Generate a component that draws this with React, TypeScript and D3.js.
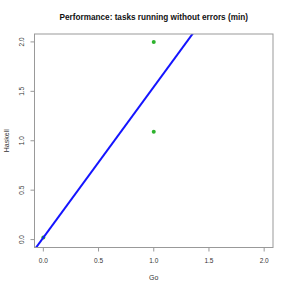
import React from "react";
import * as d3 from "d3";

const goTimes = [0, 1, 1];
const haskellTimes = [0.02, 2.0, 1.09];
const xTicks = [0, 0.5, 1, 1.5, 2];
const yTicks = [0, 0.5, 1, 1.5, 2];
const title = "Performance: tasks running without errors (min)";

const W = 291;
const H = 291;
const m = { left: 34.5, right: 273, top: 34, bottom: 247.5 };

const App = () => {
  const x = d3.scaleLinear().domain([-0.08, 2.08]).range([m.left, m.right]);
  const y = d3.scaleLinear().domain([-0.08, 2.08]).range([m.bottom, m.top]);

  // least squares fit, like abline(lm(...))
  const mx = d3.mean(goTimes)!;
  const my = d3.mean(haskellTimes)!;
  const sxy = d3.sum(goTimes, (v, i) => (v - mx) * (haskellTimes[i] - my));
  const sxx = d3.sum(goTimes, (v) => (v - mx) ** 2);
  const slope = sxy / sxx;
  const icept = my - slope * mx;

  const x0 = -0.08;
  const x1 = 2.08;
  const line = d3.line<number>().x((d) => x(d)).y((d) => y(icept + slope * d));

  const grey = "#333";

  return (
    <svg
      width={W}
      height={H}
      style={{ position: "absolute", left: 0, top: 0, background: "#fff" }}
      fontFamily="Liberation Sans, Arial, sans-serif"
    >
      <defs>
        <clipPath id="plot">
          <rect x={m.left} y={m.top} width={m.right - m.left} height={m.bottom - m.top} />
        </clipPath>
      </defs>
      <text x={(m.left + m.right) / 2} y={20} textAnchor="middle" fontSize={8.2} fontWeight="bold" fill="#111">
        {title}
      </text>

      <g clipPath="url(#plot)">
        {goTimes.map((g, i) => (
          <circle key={i} cx={x(g)} cy={y(haskellTimes[i])} r={2} fill="#2db32d" />
        ))}
        <path d={line([x0, x1]) ?? ""} stroke="#1414ff" strokeWidth={2} fill="none" />
      </g>

      <rect
        x={m.left}
        y={m.top}
        width={m.right - m.left}
        height={m.bottom - m.top}
        fill="none"
        stroke="#999"
        strokeWidth={1}
      />

      {xTicks.map((t) => (
        <g key={"x" + t}>
          <line x1={x(t)} x2={x(t)} y1={m.bottom} y2={m.bottom + 4} stroke="#999" />
          <text x={x(t)} y={263} textAnchor="middle" fontSize={6.5} fill={grey}>
            {t.toFixed(1)}
          </text>
        </g>
      ))}
      {yTicks.map((t) => (
        <g key={"y" + t}>
          <line x1={m.left - 4} x2={m.left} y1={y(t)} y2={y(t)} stroke="#999" />
          <text
            transform={`translate(24,${y(t)}) rotate(-90)`}
            textAnchor="middle"
            fontSize={6.5}
            fill={grey}
          >
            {t.toFixed(1)}
          </text>
        </g>
      ))}

      <text x={(m.left + m.right) / 2} y={280} textAnchor="middle" fontSize={7} fill={grey}>
        Go
      </text>
      <text
        transform={`translate(9,${(m.top + m.bottom) / 2}) rotate(-90)`}
        textAnchor="middle"
        fontSize={7}
        fill={grey}
      >
        Haskell
      </text>
    </svg>
  );
};

export default App;
